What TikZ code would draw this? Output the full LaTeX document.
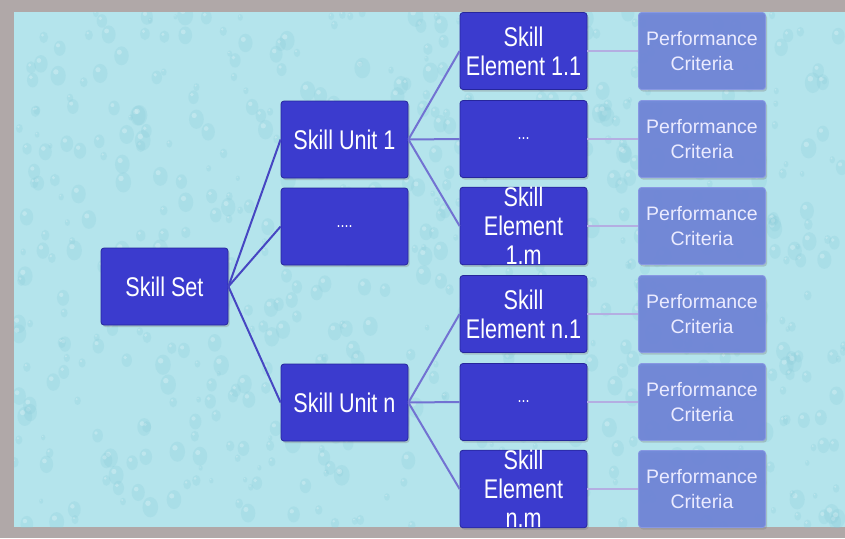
\documentclass[tikz,border=0pt]{standalone}
\usepackage{fontspec}
\setmainfont{Liberation Sans}
\newfontfamily\boxfont{Liberation Sans}[FakeStretch=0.8]
\usetikzlibrary{shadows}

\definecolor{framegrey}{HTML}{B0A8A8}
\definecolor{watercyan}{HTML}{B4E4EC}
\definecolor{dropcyan}{HTML}{86CAD8}
\definecolor{skillblue}{HTML}{3B3BCE}
\definecolor{skillrim}{HTML}{26269C}
\definecolor{critblue}{HTML}{6E84D8}
\definecolor{critrim}{HTML}{8898E2}
\definecolor{linkblue}{HTML}{4646C2}
\definecolor{linklav}{HTML}{7272D2}
\definecolor{linkpale}{HTML}{B4AEE2}

\tikzset{
  skillbox/.style={rectangle, rounded corners=3pt, fill=skillblue, draw=skillrim,
    line width=0.8pt, minimum width=127pt, minimum height=77pt, inner sep=0pt,
    align=center, text=white, font=\boxfont\fontsize{27}{29}\selectfont,
    drop shadow={opacity=0.35, shadow xshift=1.5pt, shadow yshift=-2pt}},
  critbox/.style={skillbox, fill=critblue, draw=critrim, fill opacity=0.92,
    text opacity=1, text=white!92!blue, font=\fontsize{19.5}{25}\selectfont},
  link/.style={line width=2pt, linkblue},
  sublink/.style={line width=2pt, linklav},
  critlink/.style={line width=2pt, linkpale}
}

\begin{document}
\begin{tikzpicture}[x=1pt, y=-1pt]
  \useasboundingbox (0,0) rectangle (845,538);
  \fill[framegrey] (0,0) rectangle (845,538);
  \fill[watercyan] (14,12) rectangle (845,527);

  % water drops
  \pgfmathsetseed{11}
  \begin{scope}
    \clip (14,12) rectangle (845,527);
    \foreach \k in {1,...,700}
    {
      \pgfmathsetmacro{\dx}{14+831*rnd}
      \pgfmathsetmacro{\dy}{12+515*rnd}
      \pgfmathsetmacro{\dr}{2+6*rnd}
      \fill[dropcyan, opacity=0.22] (\dx,\dy) ellipse ({\dr} and {1.3*\dr});
      \fill[white, opacity=0.25] (\dx-0.3*\dr,\dy-0.5*\dr) circle (0.35*\dr);
    }
  \end{scope}

  % tree
  \node[skillbox] (ss) at (164.5,286.5) {Skill Set};
  \node[skillbox] (su1) at (344.5,139.5) {Skill Unit 1};
  \node[skillbox] (sud) at (344.5,226.5) {\fontsize{18}{20}\selectfont....};
  \node[skillbox] (sun) at (344.5,402.5) {Skill Unit n};

  \node[skillbox] (se11) at (523.5,51) {Skill\\Element 1.1};
  \node[skillbox] (se1d) at (523.5,139) {\fontsize{18}{20}\selectfont...};
  \node[skillbox] (se1m) at (523.5,226) {Skill\\Element\\1.m};
  \node[skillbox] (sen1) at (523.5,314) {Skill\\Element n.1};
  \node[skillbox] (send) at (523.5,402) {\fontsize{18}{20}\selectfont...};
  \node[skillbox] (senm) at (523.5,489) {Skill\\Element\\n.m};

  \foreach \y [count=\i] in {51,139,226,314,402,489}
  {
    \node[critbox] (pc\i) at (702,\y) {Performance\\Criteria};
  }

  % connectors
  \foreach \u in {su1,sud,sun}
    \draw[link] (ss.east) -- (\u.west);
  \foreach \e in {se11,se1d,se1m}
    \draw[sublink] (su1.east) -- (\e.west);
  \foreach \e in {sen1,send,senm}
    \draw[sublink] (sun.east) -- (\e.west);
  \foreach \e [count=\i] in {se11,se1d,se1m,sen1,send,senm}
    \draw[critlink] (\e.east) -- (pc\i.west);
\end{tikzpicture}
\end{document}
